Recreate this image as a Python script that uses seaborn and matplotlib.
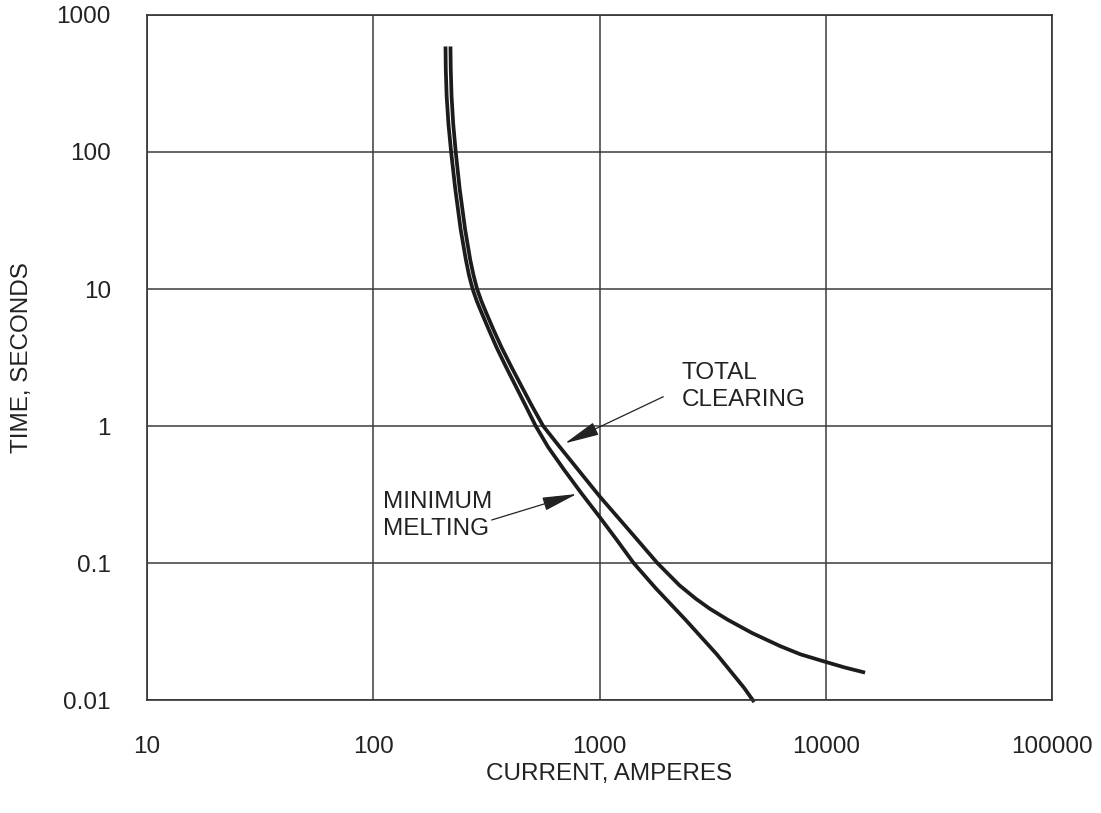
import numpy as np
import pandas as pd
import matplotlib
matplotlib.use("Agg")
import matplotlib.pyplot as plt
import seaborn as sns

# ---------------- data ----------------
min_melt_current = [208.6, 209.2, 211.1, 215.0, 220.9, 230.5, 243.5, 256.7, 264.8,
                    274.9, 286.8, 301.7, 324.8, 350.4, 386.9, 429.0, 473.2, 522.4,
                    592.9, 697.0, 832.0, 992.9, 1188, 1415, 1774, 2401, 3300, 4355, 4826]
min_melt_time = [589.3, 399.4, 254.6, 159.6, 100, 53.5, 27.15, 16.34, 12.68,
                 10, 8.17, 6.67, 5.01, 3.76, 2.683, 1.915, 1.389, 1.0,
                 0.7012, 0.4797, 0.3228, 0.2208, 0.1486, 0.1, 0.06531, 0.03848, 0.02154,
                 0.01227, 0.00966]

total_clear_current = [219.4, 220.1, 221.9, 225.7, 231.5, 241.1, 254.8, 268.3, 277.2,
                       287.7, 300.5, 316.1, 340.6, 368.7, 408.7, 454.9, 504.3, 563.6,
                       668.2, 804.4, 1000, 1344, 1801, 2257, 2660, 3071, 3694, 4725,
                       6301, 7736, 10000, 12150, 14920]
total_clear_time = [589.3, 399.4, 254.6, 159.6, 100, 53.5, 27.15, 16.34, 12.68,
                    10, 8.17, 6.67, 5.01, 3.76, 2.683, 1.915, 1.389, 1.0,
                    0.7012, 0.4797, 0.3073, 0.1752, 0.1, 0.0687, 0.0550, 0.0464, 0.03848,
                    0.03083, 0.02470, 0.02154, 0.01896, 0.01726, 0.01585]

x_ticks = [10, 100, 1000, 10000, 100000]
x_tick_labels = ["10", "100", "1000", "10000", "100000"]
y_ticks = [0.01, 0.1, 1, 10, 100, 1000]
y_tick_labels = ["0.01", "0.1", "1", "10", "100", "1000"]

x_label = "CURRENT, AMPERES"
y_label = "TIME, SECONDS"
label_total = "TOTAL\nCLEARING"
label_min = "MINIMUM\nMELTING"

# ---------------- styling ----------------
sns.set_theme(style="white")
plt.rcParams["font.family"] = ["Liberation Sans", "DejaVu Sans"]

W, H = 1101, 813
fig = plt.figure(figsize=(W / 100, H / 100), dpi=100)
ax_left, ax_right, ax_top, ax_bottom = 147, 1052, 15, 700
ax = fig.add_axes([ax_left / W, 1 - ax_bottom / H, (ax_right - ax_left) / W,
                   (ax_bottom - ax_top) / H])

df = pd.concat([
    pd.DataFrame({"current": min_melt_current, "time": min_melt_time, "curve": "min"}),
    pd.DataFrame({"current": total_clear_current, "time": total_clear_time, "curve": "total"}),
])

curve_color = "#1c1c1c"
for name, sub in df.groupby("curve"):
    sns.lineplot(data=sub, x="current", y="time", ax=ax, sort=False, estimator=None,
                 color=curve_color, linewidth=2.7, legend=False)
for ln in ax.lines:
    ln.set_clip_on(False)
    ln.set_solid_capstyle("butt")
    ln.set_solid_joinstyle("round")

ax.set_xscale("log")
ax.set_yscale("log")
ax.set_xlim(10, 100000)
ax.set_ylim(0.01, 1000)

fs = 17.5
txt_color = "#222222"
ax.set_xticks(x_ticks, x_tick_labels)
ax.set_yticks(y_ticks, y_tick_labels)
ax.minorticks_off()
ax.tick_params(axis="x", length=0, pad=26, labelsize=fs, labelcolor=txt_color)
ax.tick_params(axis="y", length=0, pad=26, labelsize=fs, labelcolor=txt_color)

ax.grid(True, which="major", color="#3c3c3c", linewidth=1.1)
for sp in ax.spines.values():
    sp.set_color("#333333")
    sp.set_linewidth(1.2)
    sp.set_visible(True)

ax.set_xlabel(x_label, fontsize=fs, color=txt_color)
ax.set_ylabel(y_label, fontsize=fs, color=txt_color)
ax.xaxis.set_label_coords(0.5105, -0.092)
ax.yaxis.set_label_coords(-0.126, 0.5)

# annotations (positions in figure pixels -> figure fraction)
def fpos(px, py):
    return (px / W, 1 - py / H)

fig.text(*fpos(681.7, 386.7), label_total, fontsize=fs, color=txt_color,
         ha="left", va="center", linespacing=1.3)
fig.text(*fpos(383.3, 515.9), label_min, fontsize=fs, color=txt_color,
         ha="left", va="center", linespacing=1.3)

arrow_kw = dict(arrowstyle="-|>,head_length=1.8,head_width=0.35", color="#222222",
                lw=0.9, shrinkA=0, shrinkB=0)
ax.annotate("", xy=fpos(565, 443.3), xytext=fpos(663.3, 396.7),
            xycoords="figure fraction", textcoords="figure fraction", arrowprops=arrow_kw)
ax.annotate("", xy=fpos(576.7, 494), xytext=fpos(491.7, 520),
            xycoords="figure fraction", textcoords="figure fraction", arrowprops=arrow_kw)

fig.savefig("out.png", dpi=100, facecolor="white")
